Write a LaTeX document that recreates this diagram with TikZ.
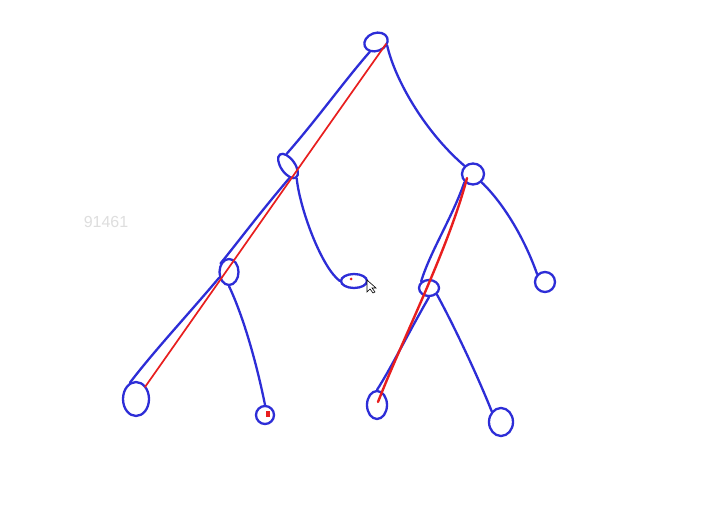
\documentclass[tikz,border=0pt]{standalone}
\usetikzlibrary{shapes.geometric}
\usepackage{fontspec}
\setsansfont{Liberation Sans}
\definecolor{pen}{RGB}{45,45,215}
\definecolor{ink}{RGB}{232,30,30}
\definecolor{faint}{RGB}{222,222,222}
\tikzset{
  knot/.style={draw=pen, ellipse, line width=2.3pt, inner sep=0pt},
  edge/.style={draw=pen, line width=2.3pt, line cap=round},
  trail/.style={draw=ink, line width=1.7pt, line cap=round}
}
\begin{document}
\begin{tikzpicture}[x=1pt,y=-1pt]
\useasboundingbox[fill=white] (0,0) rectangle (709,518);
% nodes
\node[knot, minimum width=24pt, minimum height=18pt, rotate=20] (r) at (376,42) {};
\node[knot, minimum width=14pt, minimum height=28pt, rotate=35] (a) at (288,166) {};
\node[knot, minimum width=22pt, minimum height=21pt] (e) at (473,174) {};
\node[knot, minimum width=19pt, minimum height=26pt] (b) at (229,272) {};
\node[knot, minimum width=26pt, minimum height=14pt] (d) at (354,281) {};
\node[knot, minimum width=20pt, minimum height=20pt] (f) at (545,282) {};
\node[knot, minimum width=20pt, minimum height=16pt] (g) at (429,288) {};
\node[knot, minimum width=26pt, minimum height=34pt] (c) at (136,399) {};
\node[knot, minimum width=18pt, minimum height=18pt] (h) at (265,415) {};
\node[knot, minimum width=20pt, minimum height=28pt] (i) at (377,405) {};
\node[knot, minimum width=24pt, minimum height=28pt] (j) at (501,422) {};
% edges
\draw[edge] (r.south west) .. controls (345,80) and (318,118) .. (a.north east);
\draw[edge] (a.south west) .. controls (262,210) and (238,242) .. (b.135);
\draw[edge] (b.210) .. controls (185,318) and (155,350) .. (c.110);
\draw[edge] (a.south) .. controls (300,210) and (322,268) .. (d.west);
\draw[edge] (b.south) .. controls (245,320) and (258,370) .. (h.north);
\draw[edge] (r.south east) .. controls (395,80) and (425,132) .. (e.north west);
\draw[edge] (e.south east) .. controls (505,205) and (525,240) .. (f.north west);
\draw[edge] (e.south west) .. controls (452,218) and (430,252) .. (g.north west);
\draw[edge] (g.south) .. controls (410,330) and (390,370) .. (i.north);
\draw[edge] (g.south east) .. controls (452,322) and (476,372) .. (j.north west);
% red trail
\coordinate (rt) at (386,44);
\coordinate (rb) at (145,387);
\coordinate (et) at (467,178);
\coordinate (ib) at (378,402);
\draw[trail] (rt) .. controls (306,157) and (226,272) .. (rb);
\draw[trail, line width=2.4pt] (et) .. controls (448,250) and (402,340) .. (ib);
% red specks
\fill[ink] (266,411) rectangle (270,417);
\fill[ink] (351,279) circle (1.5pt);
% cursor
\draw[black, fill=white, line width=0.6pt] (367,280) -- (367,292) -- (370,289) -- (373,293) -- (375,292) -- (372,288) -- (376,288) -- cycle;
% label
\node[font=\sffamily\fontsize{16}{16}\selectfont, text=faint] (lbl) at (106,222) {91461};
\end{tikzpicture}
\end{document}
